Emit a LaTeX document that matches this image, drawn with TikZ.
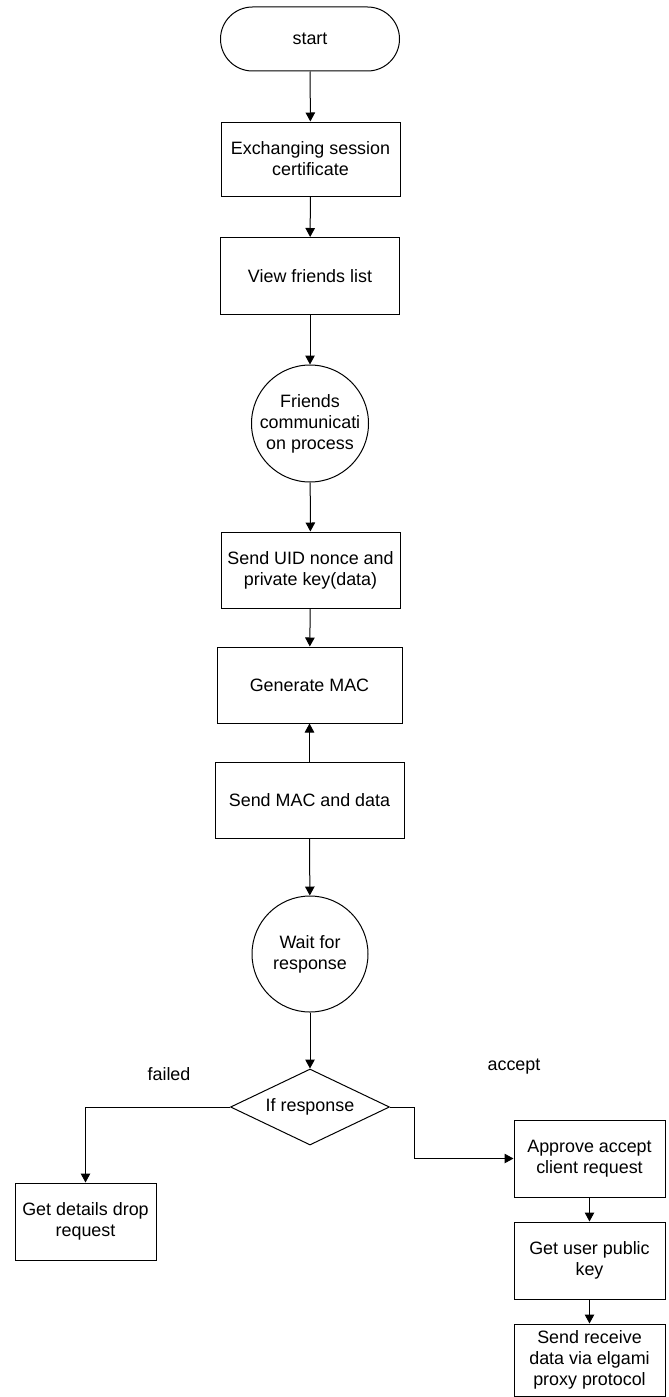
\documentclass[tikz,border=0pt]{standalone}
\usepackage{fontspec}
\setmainfont{Liberation Sans}
\usetikzlibrary{arrows.meta,shapes.geometric}
\tikzset{
  wire/.style={line width=1pt},
  arr/.style={wire, -{Triangle[length=9pt,width=9.5pt]}},
  box/.style={draw, wire, fill=white, align=center, inner sep=2pt, minimum width=179pt, minimum height=76pt},
  term/.style={box, rounded corners=32pt, minimum height=64pt},
  circ/.style={circle, draw, wire, fill=white, align=center, inner sep=0pt, minimum size=117pt},
  dec/.style={diamond, draw, wire, fill=white, inner sep=0pt, aspect=2.1, minimum width=159pt, minimum height=76pt},
  every node/.append style={font=\fontsize{17.9}{21}\selectfont}
}
\begin{document}
\begin{tikzpicture}[x=1pt,y=-1pt]
  \useasboundingbox (0,0) rectangle (669,1397);
  % main column
  \node[term] (start) at (310,39) {start};
  \node[box, minimum height=74pt] (exch) at (310.5,159) {Exchanging session\\certificate};
  \node[box, minimum height=77pt] (view) at (310,276) {View friends list};
  \node[circ] (friends) at (310,423.5) {Friends\\communicati\\on process};
  \node[box] (senduid) at (310.5,570) {Send UID nonce and\\private key(data)};
  \node[box, minimum width=185pt] (genmac) at (309.5,685) {Generate MAC};
  \node[box, minimum width=189pt] (sendmac) at (309.5,800) {Send MAC and data};
  \node[circ, minimum size=116pt] (wait) at (310,954) {Wait for\\response};
  \node[dec] (ifresp) at (310,1107) {If response};
  % branches
  \node[box, minimum width=141pt, minimum height=77pt] (drop) at (85.5,1221.5) {Get details drop\\request};
  \node[box, minimum width=151pt, minimum height=77pt] (approve) at (589.5,1158.5) {Approve accept\\client request};
  \node[box, minimum width=151pt, minimum height=77pt] (pubkey) at (589.5,1260.5) {Get user public\\key};
  \node[box, minimum width=151pt, minimum height=72pt] (elgamal) at (589.5,1360) {Send receive\\data via elgami\\proxy protocol};
  \node (failed) at (169,1074) {failed};
  \node (accept) at (514,1067) {accept};
  % connectors
  \draw[arr] (start) -- (exch);
  \draw[arr] (exch) -- (view);
  \draw[arr] (view) -- (friends);
  \draw[arr] (friends) -- (senduid);
  \draw[arr] (senduid) -- (genmac);
  \draw[arr] (sendmac) -- (genmac);
  \draw[arr] (sendmac) -- (wait);
  \draw[arr] (wait) -- (ifresp);
  \draw[arr] (ifresp.west) -| (drop.north);
  \draw[arr] (ifresp.east) -- ++(24,0) |- (approve.west);
  \draw[arr] (approve) -- (pubkey);
  \draw[arr] (pubkey) -- (elgamal);
\end{tikzpicture}
\end{document}
